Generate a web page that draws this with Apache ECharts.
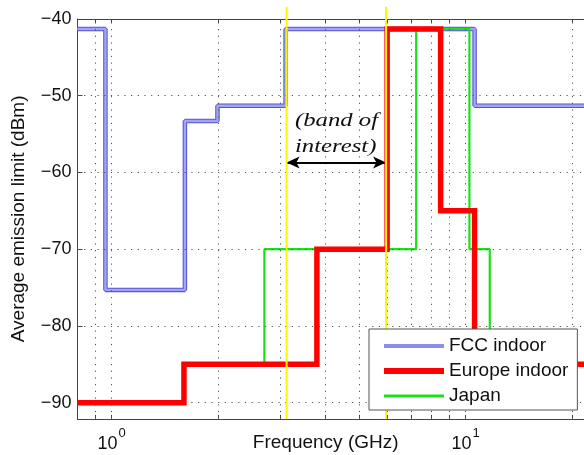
<!DOCTYPE html>
<html>
<head>
<meta charset="utf-8">
<script src="https://cdn.jsdelivr.net/npm/echarts@6/dist/echarts.min.js"></script>
<style>
html,body{margin:0;padding:0;background:#fff;}
#chart{width:584px;height:455px;}
</style>
</head>
<body>
<div id="chart"></div>
<script>
// ---- data ----
const xMin = 0.8, xMax = 21.6;
const yMin = -92.1, yMax = -40;
const freqGrid = [0.9, 1, 2, 3, 4, 5, 6, 7, 8, 9, 10, 20];
const freqLabels = [1, 10];
const levelTicks = [-90, -80, -70, -60, -50, -40];

const fccFreq  = [0.8, 0.96, 0.96, 1.61, 1.61, 1.99, 1.99, 3.1, 3.1, 10.6, 10.6, 21.6];
const fccLevel = [-41.3, -41.3, -75.3, -75.3, -53.3, -53.3, -51.3, -51.3, -41.3, -41.3, -51.3, -51.3];

const euFreq  = [0.8, 1.6, 1.6, 3.8, 3.8, 6.0, 6.0, 8.5, 8.5, 10.6, 10.6, 21.6];
const euLevel = [-90, -90, -85, -85, -70, -70, -41.3, -41.3, -65, -65, -85, -85];

const jpFreq  = [2.7, 2.7, 7.25, 7.25, 10.25, 10.25, 11.7, 11.7];
const jpLevel = [-85, -70, -70, -41.3, -41.3, -70, -70, -86];

const bandEdges = [3.12, 5.96];
const bandTop = -38.4;
const arrowLevel = -58.7;

const zip = (xs, ys) => xs.map((x, i) => [x, ys[i]]);

const FONT = "'Liberation Sans', Arial, Helvetica, sans-serif";
const gridDot = {color: '#555', width: 1, type: [1.2, 5.5]};

const chart = echarts.init(document.getElementById('chart'), null, {renderer: 'canvas'});

const tickStyle = {show: true, inside: true, length: 4, lineStyle: {color: '#444'}, customValues: freqGrid};

const option = {
  animation: false,
  backgroundColor: '#fff',
  grid: {left: 77.4, right: 0, top: 19, bottom: 36.2, containLabel: false, outerBoundsMode: 'none'},
  xAxis: [{
    type: 'log', logBase: 10, min: xMin, max: xMax, position: 'bottom',
    axisLine: {show: true, lineStyle: {color: '#444', width: 1}},
    axisTick: tickStyle,
    splitLine: {show: false},
    minorTick: {show: false},
    axisLabel: {
      customValues: freqLabels,
      margin: 8,
      color: '#111',
      fontFamily: FONT,
      fontSize: 18,
      formatter: v => '{b|10}{s|' + Math.round(Math.log10(v)) + '}',
      rich: {
        b: {fontSize: 18, fontFamily: FONT, color: '#111', lineHeight: 26, verticalAlign: 'bottom'},
        s: {fontSize: 13, fontFamily: FONT, color: '#111', lineHeight: 13, verticalAlign: 'top', padding: [0, 0, 0, 1]}
      }
    },
    name: 'Frequency (GHz)', nameLocation: 'middle', nameGap: 14, nameMoveOverlap: false,
    nameTextStyle: {fontFamily: FONT, fontSize: 19, color: '#111', padding: [0, 10, 0, 0], verticalAlign: 'top'}
  }, {
    type: 'log', logBase: 10, min: xMin, max: xMax, position: 'top',
    axisLine: {show: true, onZero: false, lineStyle: {color: '#444', width: 1}},
    axisTick: tickStyle,
    axisLabel: {show: false},
    splitLine: {show: false}
  }],
  yAxis: {
    type: 'value', min: yMin, max: yMax,
    axisLine: {show: true, lineStyle: {color: '#444', width: 1}},
    axisTick: {show: true, inside: true, length: 5, customValues: levelTicks, lineStyle: {color: '#444'}},
    splitLine: {show: false},
    axisLabel: {
      customValues: levelTicks, margin: 6, color: '#111', fontFamily: FONT, fontSize: 18,
      formatter: v => String(v).replace('-', '\u2212')
    },
    name: 'Average emission limit (dBm)', nameLocation: 'middle', nameGap: 49, nameRotate: 90, nameMoveOverlap: false,
    nameTextStyle: {fontFamily: FONT, fontSize: 19, color: '#111'}
  },
  legend: {
    show: true, orient: 'vertical', left: 369, top: 329, z: 20,
    backgroundColor: '#fff', borderColor: '#555', borderWidth: 1, borderRadius: 0,
    padding: [7, 9, 4, 12], itemGap: 5, itemWidth: 60, itemHeight: 8,
    itemStyle: {opacity: 0},
    textStyle: {fontFamily: FONT, fontSize: 19, color: '#111', lineHeight: 20},
    data: [
      {name: 'FCC indoor', lineStyle: {color: '#8c8cee', width: 4}},
      {name: 'Europe indoor', lineStyle: {color: '#ff0000', width: 6}},
      {name: 'Japan', lineStyle: {color: '#19e019', width: 3}}
    ]
  },
  series: [
    {
      type: 'line', name: '_grid', data: [], silent: true, z: 1,
      markLine: {
        silent: true, symbol: 'none', animation: false, label: {show: false},
        lineStyle: gridDot,
        data: freqGrid.map(f => ({xAxis: f})).concat(levelTicks.filter(v => v < -40.5).map(v => ({yAxis: v})))
      }
    },
    {
      type: 'line', name: '_fccOutline', data: zip(fccFreq, fccLevel), showSymbol: false, symbol: 'none',
      lineStyle: {color: '#5656d6', width: 4.5}, z: 2
    },
    {
      type: 'line', name: 'FCC indoor', data: zip(fccFreq, fccLevel), showSymbol: false, symbol: 'none',
      lineStyle: {color: '#a4a4f4', width: 2.4}, itemStyle: {color: '#9090ee'}, z: 3
    },
    {
      type: 'line', name: 'Japan', data: zip(jpFreq, jpLevel), showSymbol: false, symbol: 'none',
      lineStyle: {color: '#19e019', width: 2.2}, itemStyle: {color: '#19e019'}, z: 4
    },
    {
      type: 'line', name: 'Europe indoor', data: zip(euFreq, euLevel), showSymbol: false, symbol: 'none',
      lineStyle: {color: '#ff0000', width: 5.5, join: 'miter'}, itemStyle: {color: '#ff0000'}, z: 5
    },
    {
      type: 'line', name: '_band1', data: [[bandEdges[0], bandTop], [bandEdges[0], yMin]], showSymbol: false, symbol: 'none',
      clip: false, lineStyle: {color: '#f8f800', width: 2}, z: 6
    },
    {
      type: 'line', name: '_band2', data: [[bandEdges[1], bandTop], [bandEdges[1], yMin]], showSymbol: false, symbol: 'none',
      clip: false, lineStyle: {color: '#f8f800', width: 2}, z: 6
    },
    {
      type: 'line', name: '_arrow', data: [], z: 7,
      markLine: {
        silent: true, symbol: ['arrow', 'arrow'], symbolSize: [9, 13], label: {show: false},
        lineStyle: {color: '#000', width: 2, type: 'solid'},
        data: [[{coord: [bandEdges[0], arrowLevel]}, {coord: [bandEdges[1], arrowLevel]}]]
      }
    }
  ],
  graphic: [
    {type: 'text', x: 295, y: 121, scaleX: 1.3, z: 20,
     style: {text: '(band of', fontFamily: "'Liberation Serif', 'Times New Roman', serif", fontStyle: 'italic', fontSize: 19, fill: '#111', textAlign: 'left', textVerticalAlign: 'middle'}},
    {type: 'text', x: 295, y: 147, scaleX: 1.3, z: 20,
     style: {text: 'interest)', fontFamily: "'Liberation Serif', 'Times New Roman', serif", fontStyle: 'italic', fontSize: 19, fill: '#111', textAlign: 'left', textVerticalAlign: 'middle'}}
  ]
};
chart.setOption(option);
</script>
</body>
</html>
